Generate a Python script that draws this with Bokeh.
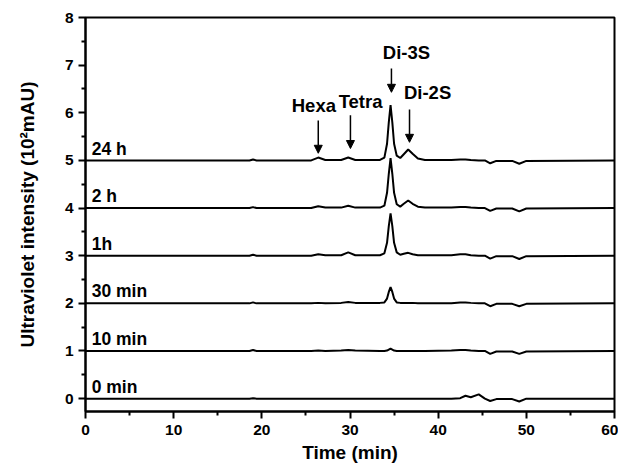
from bokeh.plotting import figure
from bokeh.models import Range1d, Arrow, NormalHead, Label, FixedTicker
from bokeh.embed import file_html
from bokeh.resources import INLINE

# retention time grid (min)
time_min = [0, 18.6, 19.0, 19.4, 25.6, 26.4, 27.2, 29.0, 29.8, 30.6, 33.4, 33.9,
            34.2, 34.4, 34.6, 34.8, 35.0, 35.3, 35.7, 36.1, 36.6, 37.1, 37.7, 38.5,
            41.5, 42.5, 43.1, 43.7, 44.6, 45.3, 45.9, 46.6, 48.4, 49.2, 50.0, 60]

# signals (10^2 mAU) relative to each trace's baseline
sig_0min = [0, 0, 0.01, 0, 0, 0, 0, 0, 0, 0, 0, 0,
            0, 0, 0, 0, 0, 0, 0, 0, 0, 0, 0, 0,
            0, 0.01, 0.06, 0.03, 0.09, 0.0, -0.05, -0.01, -0.01, -0.06, 0, 0]
sig_10min = [0, 0, 0.02, 0, 0, 0.01, 0, 0.01, 0.02, 0.01, 0, 0,
             0.01, 0.03, 0.05, 0.03, 0.01, 0, 0, 0, 0, 0, 0, 0,
             0.01, 0.02, 0.02, 0.01, 0, 0, -0.06, -0.01, -0.01, -0.06, -0.01, 0]
sig_30min = [0, 0, 0.02, 0, 0, 0.01, 0, 0.01, 0.03, 0.01, 0.01, 0.02,
             0.1, 0.24, 0.34, 0.24, 0.1, 0.02, 0.01, 0.01, 0.01, 0.01, 0, 0,
             0, 0.02, 0.02, 0.01, 0, 0, -0.06, -0.01, -0.01, -0.06, -0.01, 0]
sig_1h = [0, 0, 0.02, 0, 0, 0.03, 0.01, 0.01, 0.07, 0.01, 0.01, 0.05,
          0.27, 0.62, 0.89, 0.62, 0.27, 0.07, 0.02, 0.04, 0.06, 0.03, 0.01, 0.01,
          0.01, 0.03, 0.03, 0.01, 0, 0, -0.06, -0.01, -0.01, -0.07, -0.01, 0]
sig_2h = [0, 0, 0.02, 0, 0, 0.04, 0.01, 0.01, 0.05, 0.01, 0.01, 0.05,
          0.32, 0.72, 1.05, 0.72, 0.32, 0.08, 0.03, 0.09, 0.16, 0.09, 0.03, 0.01,
          0.01, 0.02, 0.02, 0.01, 0, 0, -0.06, -0.01, -0.01, -0.07, -0.01, 0]
sig_24h = [0, 0, 0.02, 0, 0, 0.06, 0.01, 0.01, 0.06, 0.01, 0.01, 0.06,
           0.35, 0.8, 1.16, 0.8, 0.35, 0.1, 0.05, 0.13, 0.23, 0.14, 0.04, 0.01,
           0.01, 0.02, 0.02, 0.01, 0, 0, -0.06, -0.01, -0.01, -0.07, -0.01, 0]

series = [sig_0min, sig_10min, sig_30min, sig_1h, sig_2h, sig_24h]
offsets = [0, 1, 2, 3, 4, 5]
trace_labels = ["0 min", "10 min", "30 min", "1h", "2 h", "24 h"]

x_ticks = [0, 10, 20, 30, 40, 50, 60]
y_ticks = [0, 1, 2, 3, 4, 5, 6, 7, 8]

# peak annotations: name, arrow x, arrow top, arrow bottom, label x, label y
peak_names = ["Hexa", "Tetra", "Di-3S", "Di-2S"]
peak_x = [26.4, 30.05, 34.7, 36.75]
arrow_top = [5.84, 5.95, 6.93, 6.07]
arrow_bot = [5.15, 5.25, 6.43, 5.38]
name_x = [25.9, 31.2, 36.4, 38.8]
name_y = [6.16, 6.24, 7.26, 6.42]

FONT = "Liberation Sans"

p = figure(width=618, height=466, x_range=Range1d(0, 60), y_range=Range1d(-0.27, 8),
           output_backend="svg", toolbar_location=None,
           min_border_left=85, min_border_right=4, min_border_top=17, min_border_bottom=55)
p.xgrid.visible = False
p.ygrid.visible = False
p.outline_line_color = "black"
p.outline_line_width = 2
p.outline_line_alpha = 1.0

for vals, off in zip(series, offsets):
    p.line(time_min, [v + off for v in vals], line_color="black", line_width=2)

for lab, off in zip(trace_labels, offsets):
    p.add_layout(Label(x=0.7, y=off + 0.25, text=lab, text_font=FONT, text_font_style="bold",
                       text_font_size="17.5px", text_color="black", text_baseline="alphabetic"))

for nm, px_, at, ab, nx, ny in zip(peak_names, peak_x, arrow_top, arrow_bot, name_x, name_y):
    p.add_layout(Arrow(end=NormalHead(size=8, fill_color="black", line_color="black", line_width=1),
                       x_start=px_, y_start=at, x_end=px_, y_end=ab,
                       line_color="black", line_width=1.5))
    p.add_layout(Label(x=nx, y=ny, text=nm, text_font=FONT, text_font_style="bold",
                       text_font_size="18.5px", text_color="black", text_align="center",
                       text_baseline="alphabetic"))

p.xaxis.ticker = FixedTicker(ticks=x_ticks, minor_ticks=[5, 15, 25, 35, 45, 55])
p.yaxis.ticker = FixedTicker(ticks=y_ticks, minor_ticks=[0.5, 1.5, 2.5, 3.5, 4.5, 5.5, 6.5, 7.5])
p.xaxis.axis_label = "Time (min)"
p.yaxis.axis_label = "Ultraviolet intensity (10²mAU)"

for ax in (p.xaxis[0], p.yaxis[0]):
    ax.axis_line_width = 2
    ax.axis_line_color = "black"
    ax.major_tick_line_width = 2
    ax.minor_tick_line_width = 2
    ax.major_tick_line_color = "black"
    ax.minor_tick_line_color = "black"
    ax.major_tick_in = 0
    ax.major_tick_out = 7
    ax.minor_tick_in = 0
    ax.minor_tick_out = 4
    ax.major_label_text_font = FONT
    ax.major_label_text_font_style = "bold"
    ax.major_label_text_font_size = "15.5px"
    ax.major_label_text_color = "black"
    ax.axis_label_text_font = FONT
    ax.axis_label_text_font_style = "bold"
    ax.axis_label_text_color = "black"

p.xaxis.axis_label_text_font_size = "19px"
p.yaxis.axis_label_text_font_size = "19px"
p.xaxis.major_label_standoff = 6
p.yaxis.major_label_standoff = 5
p.xaxis.axis_label_standoff = 4
p.yaxis.axis_label_standoff = 24

open("out.html", "w").write(file_html(p, INLINE))
